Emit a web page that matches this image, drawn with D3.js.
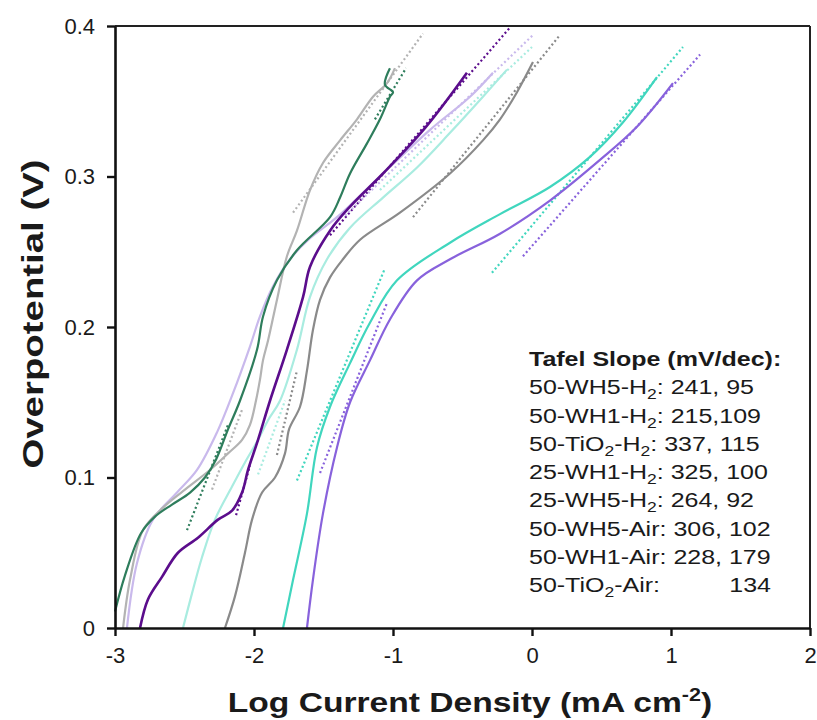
<!DOCTYPE html>
<html><head><meta charset="utf-8">
<script src="https://cdn.jsdelivr.net/npm/d3@7"></script>
<style>
body{margin:0;background:#fff}
text{font-family:"Liberation Sans",Arial,Helvetica,sans-serif;fill:#1a1a1a}
</style>
</head><body>
<svg id="chart" width="817" height="720"></svg>
<script>
// ---------- data ----------
const xTicks = [-3, -2, -1, 0, 1, 2];
const yTicks = [0, 0.1, 0.2, 0.3, 0.4];
const xLabel = "Log Current Density (mA cm";
const yLabel = "Overpotential (V)";

const legendTitle = "Tafel Slope (mV/dec):";
const sampleLabels = ["50-WH5-H_2", "50-WH1-H_2", "50-TiO_2-H_2", "25-WH1-H_2", "25-WH5-H_2", "50-WH5-Air", "50-WH1-Air", "50-TiO_2-Air"];
const slopeValues = ["241, 95", "215,109", "337, 115", "325, 100", "264, 92", "306, 102", "228, 179", "134"];

const seriesNames = ["darkGreen", "lightGray", "lavender", "darkPurple", "lightCyan", "midGray", "turquoise", "mediumPurple"];
const seriesColors = ["#2e7d5c", "#b3b3b3", "#c9b9ec", "#5b0d8c", "#a9ece0", "#8a8a8a", "#40d6be", "#8862dc"];

const darkGreen = [[-3.0,0.011],[-2.928,0.035],[-2.813,0.063],[-2.712,0.074],[-2.59,0.082],[-2.46,0.09],[-2.353,0.1],[-2.273,0.112],[-2.187,0.132],[-2.101,0.151],[-1.978,0.185],[-1.935,0.207],[-1.835,0.231],[-1.691,0.251],[-1.453,0.273],[-1.381,0.286],[-1.309,0.302],[-1.187,0.322],[-1.094,0.338],[-1.022,0.353],[-1.0,0.356],[-1.058,0.361],[-1.022,0.372]];
const lightGray = [[-2.942,0.0],[-2.892,0.032],[-2.799,0.065],[-2.655,0.08],[-2.511,0.091],[-2.317,0.105],[-2.187,0.116],[-2.086,0.125],[-2.029,0.135],[-1.986,0.151],[-1.957,0.165],[-1.935,0.178],[-1.899,0.191],[-1.835,0.218],[-1.763,0.247],[-1.691,0.264],[-1.597,0.291],[-1.504,0.309],[-1.381,0.324],[-1.259,0.338],[-1.144,0.353],[-1.043,0.362],[-0.986,0.372]];
const lavender = [[-2.914,0.0],[-2.842,0.043],[-2.727,0.072],[-2.554,0.09],[-2.41,0.105],[-2.266,0.13],[-2.151,0.156],[-2.029,0.187],[-1.957,0.207],[-1.863,0.227],[-1.741,0.245],[-1.597,0.259],[-1.403,0.273],[-1.094,0.3],[-0.734,0.331],[-0.446,0.353],[-0.281,0.369]];
const darkPurple = [[-2.82,0.0],[-2.763,0.019],[-2.662,0.034],[-2.547,0.05],[-2.403,0.06],[-2.259,0.072],[-2.158,0.078],[-2.086,0.09],[-2.043,0.105],[-1.971,0.125],[-1.885,0.151],[-1.763,0.185],[-1.647,0.22],[-1.597,0.24],[-1.453,0.264],[-1.309,0.28],[-1.072,0.302],[-0.763,0.333],[-0.468,0.369]];
const lightCyan = [[-2.511,0.0],[-2.446,0.023],[-2.374,0.047],[-2.281,0.072],[-2.158,0.094],[-2.065,0.11],[-1.971,0.125],[-1.899,0.138],[-1.813,0.151],[-1.691,0.185],[-1.597,0.22],[-1.475,0.245],[-1.309,0.266],[-1.072,0.286],[-0.827,0.306],[-0.59,0.329],[-0.353,0.353],[-0.18,0.371]];
const midGray = [[-2.209,0.0],[-2.137,0.021],[-2.065,0.05],[-2.014,0.072],[-1.942,0.09],[-1.849,0.1],[-1.777,0.116],[-1.748,0.132],[-1.669,0.147],[-1.619,0.171],[-1.576,0.198],[-1.525,0.218],[-1.453,0.233],[-1.36,0.245],[-1.237,0.258],[-0.95,0.276],[-0.59,0.302],[-0.353,0.324],[-0.23,0.338],[-0.108,0.356],[0.007,0.376]];
const turquoise = [[-1.791,0.0],[-1.719,0.032],[-1.619,0.076],[-1.547,0.12],[-1.453,0.147],[-1.309,0.176],[-1.165,0.203],[-0.971,0.231],[-0.59,0.256],[-0.23,0.275],[0.129,0.293],[0.417,0.313],[0.655,0.336],[0.899,0.366]];
const mediumPurple = [[-1.619,0.0],[-1.576,0.032],[-1.504,0.076],[-1.403,0.12],[-1.309,0.15],[-1.165,0.178],[-1.022,0.205],[-0.827,0.231],[-0.59,0.245],[-0.23,0.262],[0.129,0.284],[0.489,0.311],[0.755,0.333],[1.014,0.362]];

// Tafel fit lines: [seriesIndex, x1, y1, x2, y2]
const tafelFits = [
  [1, -1.719, 0.276, -0.784, 0.395],
  [0, -1.13, 0.338, -0.906, 0.372],
  [3, -1.453, 0.261, -0.158, 0.399],
  [2, -1.345, 0.274, 0.007, 0.394],
  [4, -1.094, 0.291, 0.0, 0.386],
  [5, -0.856, 0.273, 0.201, 0.394],
  [6, -0.288, 0.236, 1.086, 0.386],
  [7, -0.065, 0.247, 1.209, 0.381],
  [6, -1.691, 0.098, -1.058, 0.239],
  [7, -1.525, 0.103, -1.043, 0.216],
  [5, -1.835, 0.115, -1.691, 0.171],
  [3, -2.129, 0.075, -2.029, 0.108],
  [4, -1.971, 0.102, -1.777, 0.151],
  [0, -2.482, 0.065, -2.187, 0.135],
  [1, -2.302, 0.092, -2.086, 0.145]
];

const curves = [darkGreen, lightGray, lavender, darkPurple, lightCyan, midGray, turquoise, mediumPurple];

// ---------- chart ----------
const svg = d3.select("#chart");
const x = d3.scaleLinear().domain([-3, 2]).range([115, 810]);
const y = d3.scaleLinear().domain([0, 0.4]).range([628, 26]);

const line = d3.line().x(d => x(d[0])).y(d => y(d[1])).curve(d3.curveCatmullRom.alpha(0.5));

// fits
svg.append("g").selectAll("line").data(tafelFits).join("line")
  .attr("x1", d => x(d[1])).attr("y1", d => y(d[2]))
  .attr("x2", d => x(d[3])).attr("y2", d => y(d[4]))
  .attr("stroke", d => seriesColors[d[0]])
  .attr("stroke-width", 2.2)
  .attr("stroke-dasharray", "2,2.6");

// curves
const drawOrder = [7, 6, 5, 4, 2, 1, 3, 0];
svg.append("g").selectAll("path").data(drawOrder).join("path")
  .attr("d", i => line(curves[i]))
  .attr("fill", "none")
  .attr("stroke", i => seriesColors[i])
  .attr("stroke-width", i => (i === 3 ? 2.6 : 2.2))
  .attr("stroke-linejoin", "round");

// frame: top and right
svg.append("line").attr("x1", x(-3)).attr("x2", x(2)).attr("y1", y(0.4)).attr("y2", y(0.4))
  .attr("stroke", "#222").attr("stroke-width", 2);
svg.append("line").attr("x1", x(2)).attr("x2", x(2)).attr("y1", y(0.4)).attr("y2", y(0))
  .attr("stroke", "#222").attr("stroke-width", 2);

// axes
const gx = svg.append("g").attr("transform", `translate(0,${y(0)})`)
  .call(d3.axisBottom(x).tickValues(xTicks).tickSize(8).tickSizeOuter(0).tickPadding(11).tickFormat(d => String(d)));
const gy = svg.append("g").attr("transform", `translate(${x(-3)},0)`)
  .call(d3.axisLeft(y).tickValues(yTicks).tickSize(8).tickSizeOuter(0).tickPadding(12).tickFormat(d => d === 0 ? "0" : d.toFixed(1)));
[gx, gy].forEach(g => {
  g.select(".domain").attr("stroke", "#111").attr("stroke-width", 2.6);
  g.selectAll(".tick line").attr("stroke", "#111").attr("stroke-width", 2.4);
  g.selectAll(".tick text").attr("font-size", 22).attr("fill", "#1a1a1a")
    .attr("font-family", '"Liberation Sans",Arial,sans-serif');
});

// axis titles (stretched along reading direction like the reference)
const xtG = svg.append("g").attr("transform", "translate(470,712) scale(1.2,1)");
const xt = xtG.append("text").attr("x", 0).attr("y", 0).attr("text-anchor", "middle")
  .attr("font-size", 28).attr("font-weight", "bold");
xt.append("tspan").text(xLabel);
xt.append("tspan").attr("font-size", 18).attr("dy", -11).text("-2");
xt.append("tspan").attr("dy", 11).text(")");

svg.append("g").attr("transform", "translate(43,314) rotate(-90) scale(1.28,1)")
  .append("text").attr("text-anchor", "middle").attr("font-size", 30).attr("font-weight", "bold").text(yLabel);

// legend
const lx = 529, ly0 = 366, lstep = 28.3, lsx = 1.25;
const lg = svg.append("g").attr("transform", `translate(${lx},0) scale(${lsx},1)`);
lg.append("text").attr("x", 0).attr("y", ly0).attr("font-size", 20).attr("font-weight", "bold").text(legendTitle);
sampleLabels.forEach((lab, i) => {
  const yy = ly0 + lstep * (i + 1);
  const t = lg.append("text").attr("x", 0).attr("y", yy).attr("font-size", 20);
  let pending = 0;
  lab.split(/(_2)/).filter(s => s.length).forEach(part => {
    if (part === "_2") {
      t.append("tspan").attr("font-size", 14).attr("dy", 5).text("2");
      pending = -5;
    } else {
      t.append("tspan").attr("dy", pending).text(part);
      pending = 0;
    }
  });
  t.append("tspan").attr("dy", pending).text(":");
  const v = slopeValues[i];
  if (v.indexOf(",") < 0) {
    lg.append("text").attr("x", (771 - lx) / lsx).attr("y", yy).attr("font-size", 20)
      .attr("text-anchor", "end").text(v);
  } else {
    t.append("tspan").text(" " + v);
  }
});
</script>
</body></html>
